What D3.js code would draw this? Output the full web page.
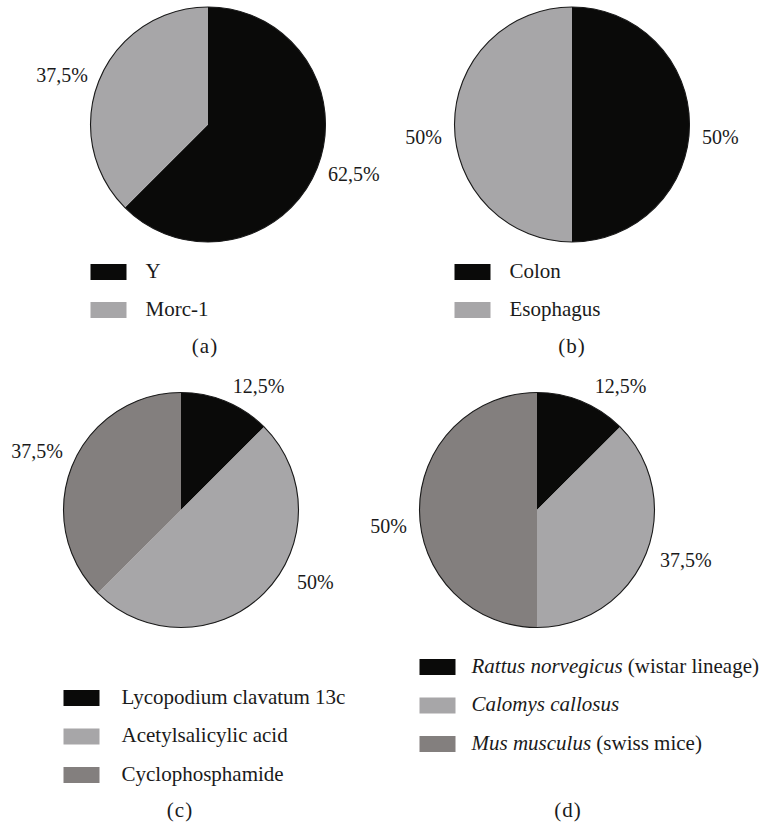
<!DOCTYPE html>
<html>
<head>
<meta charset="utf-8">
<script src="https://cdn.jsdelivr.net/npm/d3@7"></script>
<style>
  html, body { margin: 0; padding: 0; background: #fff; }
  svg { display: block; }
</style>
</head>
<body>
<svg id="chart" width="766" height="827"></svg>
<script>
// ---- data ----
const catsA = ["Y", "Morc-1"];
const valsA = [62.5, 37.5];
const labsA = ["62,5%", "37,5%"];

const catsB = ["Colon", "Esophagus"];
const valsB = [50, 50];
const labsB = ["50%", "50%"];

const catsC = ["Lycopodium clavatum 13c", "Acetylsalicylic acid", "Cyclophosphamide"];
const valsC = [12.5, 50, 37.5];
const labsC = ["12,5%", "50%", "37,5%"];

const catsD = [
  [{t: "Rattus norvegicus", i: true}, {t: " (wistar lineage)", i: false}],
  [{t: "Calomys callosus", i: true}],
  [{t: "Mus musculus", i: true}, {t: " (swiss mice)", i: false}]
];
const valsD = [12.5, 37.5, 50];
const labsD = ["12,5%", "37,5%", "50%"];

const sliceColors = ["#0a0a09", "#a7a6a8", "#837f7e"];

// ---- layout ----
const FONT = "'Liberation Serif', 'Times New Roman', Times, 'DejaVu Serif', serif";
const R = 117.5;
const panels = [
  {id: "a", cats: catsA, vals: valsA, labs: labsA, cx: 208, cy: 124.5,
   legTop: 264, legStep: 38, textDx: 55, capX: 205, capY: 353,
   nudge: [[0, 0], [0, 0]]},
  {id: "b", cats: catsB, vals: valsB, labs: labsB, cx: 572, cy: 124.5,
   legTop: 264, legStep: 38, textDx: 55, capX: 572, capY: 353,
   nudge: [[0, 12], [0, 12]]},
  {id: "c", cats: catsC, vals: valsC, labs: labsC, cx: 181, cy: 510,
   legTop: 690, legStep: 38.5, textDx: 58, capX: 180, capY: 817,
   nudge: [[2, -4], [24, -20], [-2, -9]]},
  {id: "d", cats: catsD, vals: valsD, labs: labsD, cx: 537, cy: 510,
   legTop: 659, legStep: 38.5, textDx: 52, capX: 568, capY: 817,
   nudge: [[8, -4], [3, 0], [0, 16]]}
];

const svg = d3.select("#chart")
  .style("font-family", FONT);
const pie = d3.pie().sort(null).value(d => d);
const arc = d3.arc().innerRadius(0).outerRadius(R);
const color = d3.scaleOrdinal().domain([0, 1, 2]).range(sliceColors);
const FS = 20;
const FS_LEG = 21;

panels.forEach(p => {
  const g = svg.append("g").attr("transform", `translate(${p.cx},${p.cy})`);
  const arcs = pie(p.vals);

  g.selectAll("path.slice").data(arcs).enter().append("path")
    .attr("class", "slice")
    .attr("d", arc)
    .attr("fill", (d, i) => color(i));

  g.append("circle").attr("r", R).attr("fill", "none")
    .attr("stroke", "#1a1a1a").attr("stroke-width", 1.1);

  // percentage labels
  const LR = 130;
  g.selectAll("text.pct").data(arcs).enter().append("text")
    .attr("class", "pct")
    .attr("font-family", FONT)
    .attr("font-size", FS)
    .attr("fill", "#1a1a1a")
    .each(function(d, i) {
      const mid = (d.startAngle + d.endAngle) / 2;
      const s = Math.sin(mid) >= 0 ? 1 : -1;
      const x = Math.sin(mid) * LR + p.nudge[i][0] * s;
      const y = -Math.cos(mid) * LR + p.nudge[i][1];
      d3.select(this)
        .attr("x", x).attr("y", y)
        .attr("dy", "0.35em")
        .attr("text-anchor", s > 0 ? "start" : "end")
        .text(p.labs[i]);
    });

  // legend
  const lx = p.cx - R;
  const leg = svg.append("g");
  p.cats.forEach((c, i) => {
    const y0 = p.legTop + i * p.legStep;
    leg.append("rect").attr("x", lx).attr("y", y0)
      .attr("width", 36).attr("height", 16).attr("fill", color(i));
    const t = leg.append("text").attr("x", lx + p.textDx).attr("y", y0 + 13.5)
      .attr("font-family", FONT)
      .attr("font-size", FS_LEG).attr("fill", "#1a1a1a");
    if (Array.isArray(c)) {
      c.forEach(part => t.append("tspan").attr("font-style", part.i ? "italic" : "normal").text(part.t));
    } else {
      t.text(c);
    }
  });

  svg.append("text").attr("x", p.capX).attr("y", p.capY)
    .attr("text-anchor", "middle").attr("font-size", FS_LEG)
    .attr("letter-spacing", 1)
    .attr("font-family", FONT).attr("fill", "#1a1a1a")
    .text(`(${p.id})`);
});
</script>
</body>
</html>
